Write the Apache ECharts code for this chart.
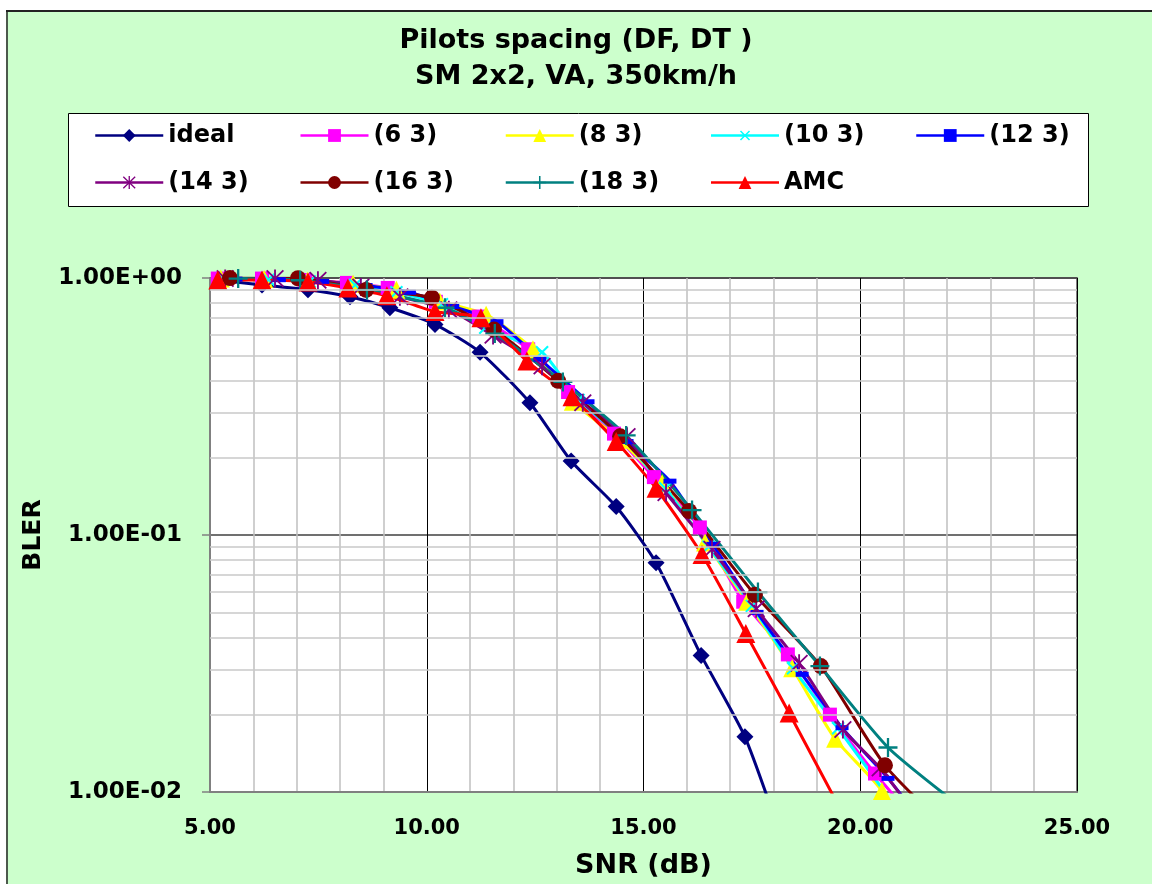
<!DOCTYPE html>
<html>
<head>
<meta charset="utf-8">
<title>Pilots spacing (DF, DT)</title>
<script src="https://cdn.jsdelivr.net/npm/echarts@6/dist/echarts.min.js"></script>
<style>
  html, body { margin: 0; padding: 0; background: #fff; }
  #main { width: 1152px; height: 884px; }
</style>
</head>
<body>
<div id="main"></div>
<script>
// [SNR dB, BLER]
const ideal = [[5.23,0.98],[6.2,0.94],[7.26,0.9],[8.23,0.845],[9.15,0.766],[10.19,0.66],[11.23,0.514],
  [12.38,0.327],[13.33,0.194],[14.37,0.129],[15.29,0.078],[16.33,0.034],[17.34,0.0164],[18.3,0.0058]];
const p6 = [[5.18,0.995],[6.2,0.995],[7.19,0.982],[8.16,0.957],[9.1,0.915],[10.21,0.808],[11.2,0.708],
  [12.34,0.528],[13.26,0.36],[14.32,0.248],[15.24,0.168],[16.3,0.107],[17.3,0.055],[18.33,0.0343],
  [19.3,0.02],[20.34,0.0118],[21.3,0.0077]];
const p8 = [[5.25,0.995],[6.25,0.99],[7.25,0.975],[8.3,0.95],[9.3,0.9],[10.3,0.81],[11.37,0.72],
  [12.45,0.528],[13.37,0.33],[14.45,0.235],[15.43,0.159],[16.42,0.0935],[17.39,0.055],[18.43,0.0303],
  [19.42,0.0161],[20.5,0.0101],[21.4,0.005]];
const p10 = [[5.3,0.99],[6.35,0.985],[7.3,0.97],[8.35,0.94],[9.3,0.88],[10.35,0.79],[11.35,0.64],
  [12.66,0.514],[13.5,0.335],[14.5,0.24],[15.5,0.152],[16.5,0.09],[17.5,0.053],[18.45,0.0303],
  [19.49,0.0177],[20.6,0.0098],[21.3,0.0068]];
const p12 = [[5.6,0.99],[6.6,0.985],[7.6,0.97],[8.6,0.935],[9.6,0.88],[10.6,0.775],[11.62,0.676],
  [12.61,0.483],[13.72,0.33],[14.62,0.231],[15.61,0.162],[16.6,0.092],[17.62,0.05],[18.66,0.0287],
  [19.58,0.0178],[20.64,0.0113],[21.5,0.0074]];
const p14 = [[5.35,0.995],[6.5,0.995],[7.49,0.98],[8.48,0.923],[9.38,0.845],[10.51,0.753],[11.53,0.598],
  [12.66,0.454],[13.6,0.327],[14.62,0.242],[15.52,0.146],[16.58,0.088],[17.6,0.0516],[18.59,0.0317],
  [19.6,0.0175],[20.46,0.0124],[21.4,0.0076]];
const p16 = [[5.46,0.999],[7.03,0.998],[8.6,0.899],[10.12,0.838],[11.55,0.63],[13.03,0.398],[14.46,0.242],
  [16.05,0.124],[17.57,0.0585],[19.09,0.0309],[20.57,0.0127],[22.05,0.0071]];
const p18 = [[5.65,0.995],[7.08,0.98],[8.62,0.899],[10.42,0.766],[11.57,0.608],[13.14,0.394],[14.6,0.244],
  [16.12,0.125],[17.64,0.06],[19.07,0.0309],[20.64,0.0149],[22.3,0.0088]];
const amc = [[5.18,0.982],[6.2,0.982],[7.26,0.965],[8.18,0.915],[9.08,0.853],[10.19,0.74],[11.25,0.7],
  [12.31,0.475],[13.35,0.345],[14.37,0.231],[15.29,0.152],[16.35,0.084],[17.36,0.0414],[18.36,0.0203],
  [19.4,0.0095]];

const seriesNames = ['ideal', '(6 3)', '(8 3)', '(10 3)', '(12 3)', '(14 3)', '(16 3)', '(18 3)', 'AMC'];
const minorLevels = [0.02,0.03,0.04,0.05,0.06,0.07,0.08,0.09,0.2,0.3,0.4,0.5,0.6,0.7,0.8,0.9];

const FONT = 'DejaVu Sans';
const plus = 'path://M4.4,0h1.2v4.4h4.4v1.2h-4.4v4.4h-1.2v-4.4h-4.4v-1.2h4.4z';
const star = 'path://M4.5,0h1v10h-1z M0.85,0.15L9.85,9.15L9.15,9.85L0.15,0.85z M9.15,0.15L9.85,0.85L0.85,9.85L0.15,9.15z';
const dash = 'path://M0,0h10v4h-10z';

function mk(name, data, color, symbol, size, rotate) {
  return {
    name: name,
    type: 'line',
    data: data,
    smooth: 0.2,
    symbol: symbol,
    symbolSize: size,
    symbolRotate: rotate || 0,
    showAllSymbol: true,
    lineStyle: { color: color, width: 3 },
    itemStyle: { color: color },
    emphasis: { disabled: true },
    animation: false,
    z: 3
  };
}

const chart = echarts.init(document.getElementById('main'));

chart.setOption({
  backgroundColor: '#CCFFCC',
  graphic: [
    { type: 'rect', shape: { x: 0, y: 0, width: 1152, height: 10 }, style: { fill: '#fff' }, z: 0 },
    { type: 'rect', shape: { x: 0, y: 0, width: 6, height: 884 }, style: { fill: '#fff' }, z: 0 },
    { type: 'line', shape: { x1: 6, y1: 11, x2: 1152, y2: 11 }, style: { stroke: '#222', lineWidth: 2 }, z: 0 },
    { type: 'line', shape: { x1: 7, y1: 11, x2: 7, y2: 884 }, style: { stroke: '#222', lineWidth: 1.5 }, z: 0 },
    { type: 'rect', shape: { x: 68.5, y: 113.5, width: 1020, height: 93 },
      style: { fill: '#fff', stroke: '#000', lineWidth: 1 }, z: 0 }
  ],
  title: {
    text: 'Pilots spacing (DF, DT )\nSM 2x2, VA, 350km/h',
    left: 'center',
    top: 18,
    textStyle: { fontFamily: FONT, fontWeight: 'bold', fontSize: 27, lineHeight: 36, color: '#000' }
  },
  legend: {
    data: seriesNames,
    left: 94,
    top: 117,
    width: 1040,
    padding: 0,
    itemWidth: 68,
    itemHeight: 16,
    itemGap: 10,
    selectedMode: false,
    lineStyle: { width: 2.5 },
    textStyle: { fontFamily: FONT, fontWeight: 'bold', fontSize: 24, color: '#000', width: 121, lineHeight: 37 }
  },
  grid: {
    left: 210, top: 278, right: 75, bottom: 87,
    show: true, backgroundColor: '#fff', borderColor: '#808080', borderWidth: 2
  },
  xAxis: {
    type: 'value',
    min: 5, max: 25, interval: 5,
    name: 'SNR (dB)',
    nameLocation: 'middle',
    nameGap: 60,
    nameTextStyle: { fontFamily: FONT, fontWeight: 'bold', fontSize: 27, color: '#000' },
    axisLine: { show: true, onZero: false, lineStyle: { color: '#808080', width: 2 } },
    axisTick: { show: false },
    axisLabel: {
      margin: 26, fontFamily: FONT, fontWeight: 'bold', fontSize: 21, color: '#000',
      formatter: v => v.toFixed(2)
    },
    splitLine: { show: true, lineStyle: { color: '#000', width: 1 } },
    minorTick: { show: false, splitNumber: 5 },
    minorSplitLine: { show: true, lineStyle: { color: '#c0c0c0', width: 1.5 } }
  },
  yAxis: {
    type: 'log',
    logBase: 10,
    min: 0.01, max: 1,
    name: 'BLER',
    nameLocation: 'middle',
    nameGap: 164,
    nameTextStyle: { fontFamily: FONT, fontWeight: 'bold', fontSize: 25, color: '#000' },
    axisLine: { show: true, lineStyle: { color: '#808080', width: 2 } },
    axisTick: { show: true, length: 8, lineStyle: { color: '#808080', width: 1.5 } },
    axisLabel: {
      margin: 28, fontFamily: FONT, fontWeight: 'bold', fontSize: 23, color: '#000',
      formatter: v => {
        const e = Math.round(Math.log10(v));
        return '1.00E' + (e < 0 ? '-' : '+') + String(Math.abs(e)).padStart(2, '0');
      }
    },
    splitLine: { show: true, lineStyle: { color: '#404040', width: 1.5 } }
  },
  series: [
    {
      name: 'minor',
      type: 'line',
      data: [],
      silent: true,
      z: 1,
      markLine: {
        silent: true,
        symbol: ['none', 'none'],
        label: { show: false },
        animation: false,
        lineStyle: { color: '#c8c8c8', type: 'solid', width: 1.5 },
        data: minorLevels.map(v => ({ yAxis: v }))
      }
    },
    mk('ideal', ideal, '#000080', 'diamond', 17),
    mk('(6 3)', p6, '#FF00FF', 'rect', 14),
    mk('(8 3)', p8, '#FFFF00', 'triangle', 18),
    mk('(10 3)', p10, '#00FFFF', plus, 17, 45),
    mk('(12 3)', p12, '#0000FF', dash, [13, 5]),
    mk('(14 3)', p14, '#800080', star, 18),
    mk('(16 3)', p16, '#800000', 'circle', 16),
    mk('(18 3)', p18, '#008080', plus, 19),
    mk('AMC', amc, '#FF0000', 'triangle', 19)
  ]
});
</script>
</body>
</html>
